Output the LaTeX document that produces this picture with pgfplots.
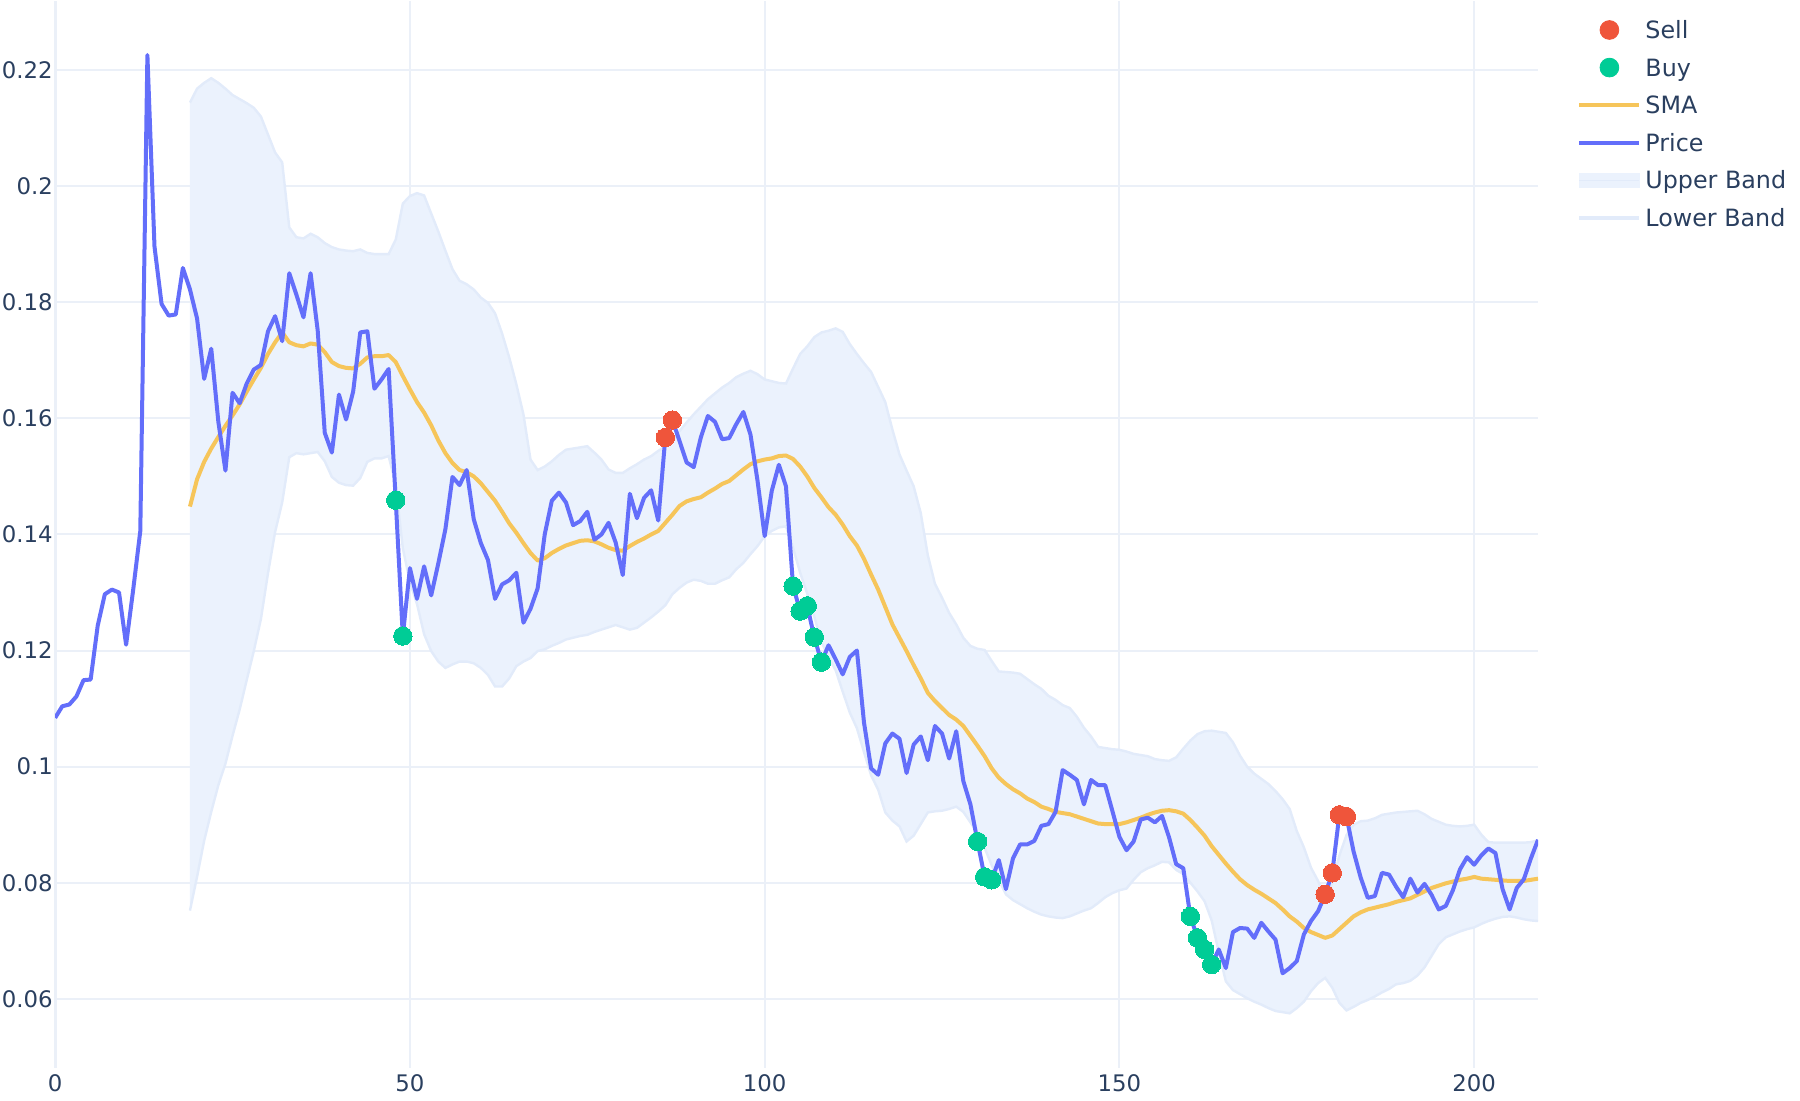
\documentclass[border=0pt]{standalone}
\usepackage{fontspec}
\setmainfont{DejaVu Sans}
\usepackage{pgfplots}
\usepackage{pgfplotstable}
\pgfplotsset{compat=1.18}
\usepgfplotslibrary{fillbetween}
\definecolor{pricecol}{HTML}{636EFA}
\definecolor{smacol}{HTML}{F6C55A}
\definecolor{sellcol}{HTML}{EF553B}
\definecolor{buycol}{HTML}{00CC96}
\definecolor{bandfill}{HTML}{EBF2FD}
\definecolor{bandline}{HTML}{E2EBFA}
\definecolor{gridcol}{HTML}{EBF0F8}
\definecolor{tickcol}{HTML}{2A3F5F}

\pgfplotstableread{
x y
0 0.1084
1 0.1104
2 0.1107
3 0.1121
4 0.1149
5 0.1150
6 0.1243
7 0.1297
8 0.1305
9 0.1300
10 0.1210
11 0.1305
12 0.1406
13 0.2226
14 0.1896
15 0.1797
16 0.1777
17 0.1779
18 0.1859
19 0.1822
20 0.1772
21 0.1668
22 0.1720
23 0.1594
24 0.1510
25 0.1644
26 0.1626
27 0.1660
28 0.1684
29 0.1692
30 0.1750
31 0.1776
32 0.1733
33 0.1850
34 0.1813
35 0.1774
36 0.1850
37 0.1752
38 0.1575
39 0.1541
40 0.1641
41 0.1598
42 0.1646
43 0.1748
44 0.1750
45 0.1651
46 0.1667
47 0.1685
48 0.1459
49 0.1225
50 0.1342
51 0.1289
52 0.1345
53 0.1295
54 0.1350
55 0.1409
56 0.1499
57 0.1485
58 0.1511
59 0.1426
60 0.1385
61 0.1356
62 0.1289
63 0.1314
64 0.1321
65 0.1334
66 0.1248
67 0.1272
68 0.1307
69 0.1400
70 0.1458
71 0.1472
72 0.1455
73 0.1416
74 0.1423
75 0.1439
76 0.1391
77 0.1400
78 0.1420
79 0.1386
80 0.1330
81 0.1470
82 0.1428
83 0.1463
84 0.1476
85 0.1424
86 0.1567
87 0.1597
88 0.1561
89 0.1524
90 0.1516
91 0.1567
92 0.1604
93 0.1594
94 0.1564
95 0.1566
96 0.1590
97 0.1611
98 0.1572
99 0.1492
100 0.1397
101 0.1475
102 0.1520
103 0.1483
104 0.1311
105 0.1268
106 0.1277
107 0.1223
108 0.1180
109 0.1209
110 0.1185
111 0.1159
112 0.1189
113 0.1200
114 0.1076
115 0.0997
116 0.0986
117 0.1040
118 0.1057
119 0.1048
120 0.0989
121 0.1038
122 0.1052
123 0.1011
124 0.1070
125 0.1057
126 0.1014
127 0.1061
128 0.0975
129 0.0935
130 0.0871
131 0.0810
132 0.0805
133 0.0839
134 0.0789
135 0.0842
136 0.0866
137 0.0866
138 0.0872
139 0.0898
140 0.0901
141 0.0922
142 0.0994
143 0.0986
144 0.0977
145 0.0935
146 0.0977
147 0.0968
148 0.0968
149 0.0924
150 0.0879
151 0.0856
152 0.0871
153 0.0909
154 0.0912
155 0.0904
156 0.0915
157 0.0878
158 0.0832
159 0.0825
160 0.0742
161 0.0705
162 0.0685
163 0.0659
164 0.0685
165 0.0653
166 0.0715
167 0.0722
168 0.0721
169 0.0705
170 0.0731
171 0.0716
172 0.0702
173 0.0644
174 0.0653
175 0.0665
176 0.0711
177 0.0734
178 0.0751
179 0.0780
180 0.0817
181 0.0917
182 0.0914
183 0.0854
184 0.0809
185 0.0774
186 0.0777
187 0.0817
188 0.0814
189 0.0793
190 0.0775
191 0.0807
192 0.0783
193 0.0798
194 0.0779
195 0.0754
196 0.0760
197 0.0787
198 0.0823
199 0.0844
200 0.0831
201 0.0847
202 0.0859
203 0.0851
204 0.0789
205 0.0754
206 0.0791
207 0.0806
208 0.0842
209 0.0874
}\pricetab

\pgfplotstableread{
x sma up lo
19 0.1448 0.2144 0.0752
20 0.1495 0.2168 0.0810
21 0.1525 0.2178 0.0872
22 0.1548 0.2186 0.0922
23 0.1568 0.2178 0.0968
24 0.1587 0.2168 0.1005
25 0.1605 0.2157 0.1053
26 0.1624 0.2150 0.1098
27 0.1646 0.2143 0.1149
28 0.1667 0.2135 0.1199
29 0.1687 0.2120 0.1254
30 0.1711 0.2089 0.1333
31 0.1731 0.2058 0.1404
32 0.1748 0.2041 0.1455
33 0.1731 0.1929 0.1533
34 0.1726 0.1912 0.1540
35 0.1724 0.1910 0.1538
36 0.1729 0.1918 0.1540
37 0.1727 0.1912 0.1542
38 0.1714 0.1902 0.1526
39 0.1697 0.1895 0.1499
40 0.1690 0.1891 0.1489
41 0.1687 0.1889 0.1485
42 0.1686 0.1888 0.1484
43 0.1694 0.1891 0.1497
44 0.1705 0.1885 0.1525
45 0.1707 0.1883 0.1531
46 0.1707 0.1883 0.1531
47 0.1709 0.1883 0.1535
48 0.1697 0.1908 0.1486
49 0.1673 0.1970 0.1376
50 0.1650 0.1983 0.1318
51 0.1628 0.1988 0.1280
52 0.1610 0.1984 0.1228
53 0.1588 0.1953 0.1199
54 0.1562 0.1922 0.1181
55 0.1540 0.1889 0.1170
56 0.1523 0.1857 0.1176
57 0.1511 0.1837 0.1181
58 0.1507 0.1831 0.1181
59 0.1500 0.1822 0.1178
60 0.1488 0.1808 0.1170
61 0.1473 0.1799 0.1158
62 0.1458 0.1781 0.1138
63 0.1439 0.1746 0.1138
64 0.1419 0.1705 0.1152
65 0.1403 0.1659 0.1173
66 0.1385 0.1607 0.1181
67 0.1368 0.1529 0.1187
68 0.1355 0.1511 0.1199
69 0.1359 0.1517 0.1202
70 0.1368 0.1526 0.1208
71 0.1375 0.1537 0.1213
72 0.1381 0.1546 0.1219
73 0.1385 0.1548 0.1222
74 0.1389 0.1550 0.1225
75 0.1390 0.1552 0.1227
76 0.1388 0.1541 0.1232
77 0.1383 0.1529 0.1236
78 0.1377 0.1512 0.1240
79 0.1373 0.1506 0.1244
80 0.1372 0.1506 0.1240
81 0.1380 0.1514 0.1236
82 0.1387 0.1521 0.1239
83 0.1393 0.1529 0.1248
84 0.1400 0.1535 0.1257
85 0.1406 0.1544 0.1267
86 0.1420 0.1551 0.1278
87 0.1434 0.1564 0.1297
88 0.1449 0.1578 0.1308
89 0.1457 0.1593 0.1317
90 0.1461 0.1607 0.1322
91 0.1464 0.1620 0.1320
92 0.1472 0.1633 0.1315
93 0.1479 0.1643 0.1315
94 0.1487 0.1653 0.1321
95 0.1492 0.1661 0.1326
96 0.1502 0.1671 0.1340
97 0.1512 0.1677 0.1351
98 0.1521 0.1682 0.1366
99 0.1526 0.1676 0.1380
100 0.1529 0.1667 0.1397
101 0.1531 0.1664 0.1406
102 0.1535 0.1661 0.1412
103 0.1536 0.1660 0.1414
104 0.1530 0.1686 0.1377
105 0.1517 0.1711 0.1334
106 0.1500 0.1724 0.1298
107 0.1480 0.1740 0.1258
108 0.1464 0.1748 0.1215
109 0.1447 0.1751 0.1189
110 0.1434 0.1755 0.1166
111 0.1417 0.1749 0.1129
112 0.1397 0.1728 0.1093
113 0.1381 0.1711 0.1066
114 0.1358 0.1695 0.1025
115 0.1331 0.1680 0.0985
116 0.1305 0.1654 0.0960
117 0.1275 0.1628 0.0921
118 0.1245 0.1581 0.0907
119 0.1222 0.1538 0.0897
120 0.1199 0.1510 0.0871
121 0.1175 0.1483 0.0881
122 0.1152 0.1437 0.0901
123 0.1127 0.1364 0.0921
124 0.1113 0.1315 0.0923
125 0.1101 0.1291 0.0924
126 0.1089 0.1265 0.0927
127 0.1081 0.1245 0.0931
128 0.1070 0.1222 0.0922
129 0.1053 0.1208 0.0904
130 0.1036 0.1203 0.0885
131 0.1018 0.1201 0.0860
132 0.0997 0.1182 0.0830
133 0.0981 0.1164 0.0805
134 0.0970 0.1163 0.0780
135 0.0961 0.1162 0.0770
136 0.0954 0.1160 0.0763
137 0.0945 0.1151 0.0756
138 0.0939 0.1142 0.0750
139 0.0931 0.1134 0.0745
140 0.0927 0.1122 0.0742
141 0.0922 0.1115 0.0740
142 0.0920 0.1106 0.0739
143 0.0918 0.1101 0.0742
144 0.0914 0.1086 0.0747
145 0.0910 0.1067 0.0752
146 0.0906 0.1052 0.0756
147 0.0902 0.1034 0.0765
148 0.0901 0.1032 0.0775
149 0.0901 0.1030 0.0782
150 0.0901 0.1029 0.0787
151 0.0904 0.1026 0.0790
152 0.0908 0.1022 0.0805
153 0.0912 0.1020 0.0818
154 0.0917 0.1018 0.0825
155 0.0921 0.1013 0.0830
156 0.0924 0.1011 0.0836
157 0.0925 0.1010 0.0835
158 0.0923 0.1016 0.0822
159 0.0919 0.1031 0.0815
160 0.0908 0.1045 0.0800
161 0.0895 0.1056 0.0785
162 0.0881 0.1061 0.0768
163 0.0863 0.1062 0.0735
164 0.0848 0.1060 0.0680
165 0.0833 0.1058 0.0630
166 0.0819 0.1042 0.0615
167 0.0806 0.1019 0.0608
168 0.0796 0.1000 0.0601
169 0.0788 0.0988 0.0595
170 0.0781 0.0979 0.0590
171 0.0773 0.0970 0.0584
172 0.0765 0.0958 0.0579
173 0.0754 0.0944 0.0577
174 0.0742 0.0927 0.0575
175 0.0733 0.0889 0.0584
176 0.0722 0.0861 0.0595
177 0.0715 0.0826 0.0613
178 0.0710 0.0803 0.0627
179 0.0705 0.0775 0.0636
180 0.0709 0.0799 0.0619
181 0.0720 0.0847 0.0593
182 0.0731 0.0882 0.0580
183 0.0742 0.0900 0.0586
184 0.0749 0.0906 0.0593
185 0.0754 0.0907 0.0598
186 0.0757 0.0911 0.0604
187 0.0760 0.0917 0.0611
188 0.0763 0.0919 0.0617
189 0.0767 0.0921 0.0625
190 0.0770 0.0922 0.0627
191 0.0773 0.0923 0.0631
192 0.0779 0.0924 0.0640
193 0.0785 0.0918 0.0654
194 0.0791 0.0910 0.0674
195 0.0795 0.0905 0.0694
196 0.0799 0.0900 0.0706
197 0.0802 0.0898 0.0711
198 0.0805 0.0897 0.0716
199 0.0807 0.0898 0.0720
200 0.0810 0.0900 0.0723
201 0.0807 0.0883 0.0729
202 0.0806 0.0870 0.0734
203 0.0805 0.0869 0.0738
204 0.0804 0.0869 0.0741
205 0.0803 0.0869 0.0742
206 0.0803 0.0869 0.0740
207 0.0803 0.0869 0.0737
208 0.0805 0.0870 0.0735
209 0.0807 0.0873 0.0734
}\bandtab

\begin{document}
\begin{tikzpicture}
\begin{axis}[
  name=ax, at={(0,0)}, anchor=south west,
  scale only axis, width=741.5pt, height=533.5pt,
  xmin=0, xmax=209, ymin=0.0481, ymax=0.2319,
  axis line style={draw=none},
  major tick length=0pt,
  xtick={0,50,100,150,200},
  ytick={0.06,0.08,0.1,0.12,0.14,0.16,0.18,0.2,0.22},
  grid=major,
  major grid style={color=gridcol, line width=1pt},
  tick label style={font=\fontsize{11.4}{13}\selectfont, text=tickcol},
  /pgf/number format/.cd, fixed, precision=2, assume math mode=true,
  /pgfplots/.cd,
  yticklabel style={inner xsep=1pt},
  legend cell align=left,
  legend style={at={(1,1)}, anchor=north west, xshift=19.5pt, yshift=-6.6pt,
    draw=none, fill=none, inner sep=0pt,
    font=\fontsize{11.9}{14}\selectfont, text=tickcol,
    nodes={text height=10pt, text depth=3pt},
    row sep=1.8pt,
    /tikz/every even column/.append style={column sep=4pt}},
]
\addplot[forget plot, draw=gridcol, line width=2pt] coordinates {(0,0.0481) (0,0.2319)};
\addplot[forget plot, name path=up, draw=none] table[x=x,y=up]{\bandtab};
\addplot[forget plot, name path=lo, draw=none] table[x=x,y=lo]{\bandtab};
\addplot[forget plot, fill=bandfill, draw=none] fill between[of=up and lo];
\addplot[forget plot, draw=bandline, line width=1.2pt] table[x=x,y=up]{\bandtab};
\addplot[forget plot, draw=bandline, line width=1.2pt] table[x=x,y=lo]{\bandtab};
\addplot[forget plot, draw=smacol, line width=2pt, line join=round] table[x=x,y=sma]{\bandtab};
\addplot[forget plot, draw=pricecol, line width=2pt, line join=round] table[x=x,y=y]{\pricetab};
\addplot[forget plot, color=sellcol, only marks, mark=*, mark size=4.6pt, mark options={draw=sellcol, fill=sellcol, line width=0pt}] coordinates {
(86,0.1567) (87,0.1597) (179,0.0780) (180,0.0817) (181,0.0917) (182,0.0914)};
\addplot[forget plot, color=buycol, only marks, mark=*, mark size=4.6pt, mark options={draw=buycol, fill=buycol, line width=0pt}] coordinates {
(48,0.1459) (49,0.1225) (104,0.1311) (105,0.1268) (106,0.1277) (107,0.1223) (108,0.1180)
(130,0.0871) (131,0.0810) (132,0.0805) (160,0.0742) (161,0.0705) (162,0.0685) (163,0.0659)};

\addlegendimage{legend image code/.code={\fill[sellcol] (15pt,0.8pt) circle (4.7pt);}}
\addlegendentry{Sell}
\addlegendimage{legend image code/.code={\fill[buycol] (15pt,0.8pt) circle (4.7pt);}}
\addlegendentry{Buy}
\addlegendimage{legend image code/.code={\draw[smacol, line width=2pt] (0pt,0.8pt) -- (30pt,0.8pt);}}
\addlegendentry{SMA}
\addlegendimage{legend image code/.code={\draw[pricecol, line width=2pt] (0pt,0.8pt) -- (30pt,0.8pt);}}
\addlegendentry{Price}
\addlegendimage{legend image code/.code={\fill[bandfill] (0pt,-2.5pt) rectangle (30pt,4.1pt); \draw[bandline, line width=0.8pt] (0pt,0.8pt) -- (30pt,0.8pt);}}
\addlegendentry{Upper Band}
\addlegendimage{legend image code/.code={\draw[bandline, line width=2pt] (0pt,0.8pt) -- (30pt,0.8pt);}}
\addlegendentry{Lower Band}
\end{axis}
\path (ax.south west) ++(-27.5pt,-16.5pt);
\path (ax.north east) ++(131pt,0pt);
\end{tikzpicture}
\end{document}
